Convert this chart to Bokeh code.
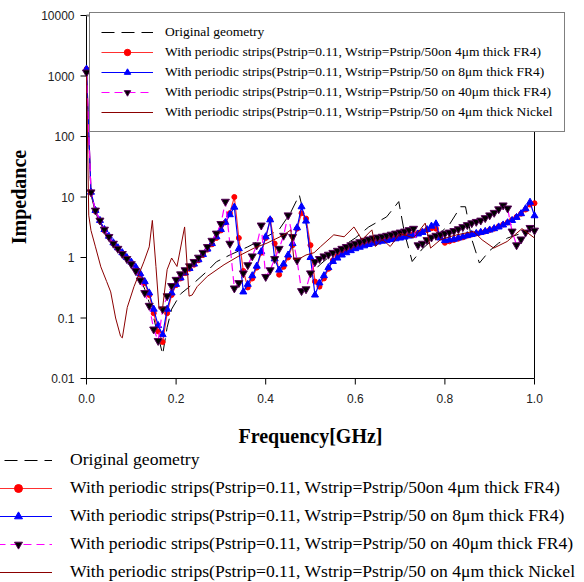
import math
from bokeh.plotting import figure
from bokeh.models import Legend, LegendItem
from bokeh.core.properties import value
from bokeh.embed import file_html
from bokeh.resources import INLINE

# ---------------- data ----------------
freq = [0.00, 0.01, 0.02, 0.03, 0.04, 0.05, 0.06, 0.07, 0.08, 0.09,
        0.10, 0.11, 0.12, 0.13, 0.14, 0.15, 0.16, 0.17, 0.18, 0.19,
        0.20, 0.21, 0.22, 0.23, 0.24, 0.25, 0.26, 0.27, 0.28, 0.29,
        0.30, 0.31, 0.32, 0.33, 0.34, 0.35, 0.36, 0.37, 0.38, 0.39,
        0.40, 0.41, 0.42, 0.43, 0.44, 0.45, 0.46, 0.47, 0.48, 0.49,
        0.50, 0.51, 0.52, 0.53, 0.54, 0.55, 0.56, 0.57, 0.58, 0.59,
        0.60, 0.61, 0.62, 0.63, 0.64, 0.65, 0.66, 0.67, 0.68, 0.69,
        0.70, 0.71, 0.72, 0.73, 0.74, 0.75, 0.76, 0.77, 0.78, 0.79,
        0.80, 0.81, 0.82, 0.83, 0.84, 0.85, 0.86, 0.87, 0.88, 0.89,
        0.90, 0.91, 0.92, 0.93, 0.94, 0.95, 0.96, 0.97, 0.98, 0.99, 1.00]

fr4_4um = [1300, 12, 5.8, 4.0, 2.8, 2.2, 1.7, 1.4, 1.15, 0.98,
           0.82, 0.67, 0.52, 0.38, 0.24, 0.12, 0.06, 0.04, 0.12, 0.24,
           0.35, 0.45, 0.55, 0.65, 0.76, 0.9, 1.1, 1.35, 1.65, 2.1,
           2.8, 3.8, 5.4, 10, 2.1, 0.6, 0.32, 0.45, 0.68, 1.2,
           2.1, 4.2, 1.7, 0.52, 0.7, 1.0, 1.6, 3.0, 5.4, 4.4,
           1.6, 0.4, 0.33, 0.45, 0.65, 0.9, 1.05, 1.2, 1.3, 1.4,
           1.5, 1.58, 1.66, 1.74, 1.8, 1.86, 1.92, 2.0, 2.06, 2.12,
           2.2, 2.28, 2.36, 2.45, 2.55, 2.7, 2.85, 3.05, 3.0, 2.2,
           1.75, 1.85, 1.95, 2.05, 2.15, 2.3, 2.4, 2.5, 2.6, 2.7,
           2.85, 3.0, 3.25, 3.5, 3.8, 4.2, 4.7, 5.3, 6.2, 7.5, 7.9]

fr4_8um = [1300, 12, 6.0, 4.1, 2.9, 2.25, 1.75, 1.45, 1.2, 1.0,
           0.84, 0.69, 0.54, 0.4, 0.26, 0.14, 0.075, 0.053, 0.14, 0.26,
           0.36, 0.46, 0.56, 0.66, 0.78, 0.92, 1.12, 1.38, 1.7, 2.2,
           2.9, 3.8, 5.1, 6.8, 1.4, 0.27, 0.36, 0.5, 0.72, 1.25,
           2.2, 4.2, 0.95, 0.62, 0.78, 1.1, 1.7, 3.1, 6.9, 4.0,
           1.0, 0.24, 0.38, 0.5, 0.68, 0.86, 0.98, 1.1, 1.2, 1.3,
           1.4, 1.48, 1.56, 1.64, 1.72, 1.8, 1.86, 1.92, 1.98, 2.04,
           2.1, 2.18, 2.26, 2.35, 2.45, 2.6, 2.9, 3.3, 3.6, 2.1,
           1.9, 1.95, 2.0, 2.1, 2.2, 2.3, 2.4, 2.5, 2.6, 2.7,
           2.85, 3.0, 3.2, 3.45, 3.75, 4.1, 4.6, 5.3, 6.4, 8.2, 4.9]

fr4_40um = [1150, 12, 6.0, 4.1, 2.9, 2.2, 1.7, 1.4, 1.15, 0.95,
            0.78, 0.6, 0.42, 0.26, 0.16, 0.065, 0.042, 0.14, 0.23, 0.34,
            0.43, 0.53, 0.62, 0.72, 0.85, 1.0, 1.2, 1.5, 1.9, 2.5,
            3.6, 8.4, 1.7, 0.31, 0.38, 0.55, 0.75, 1.05, 1.6, 3.4,
            0.48, 0.62, 0.95, 1.4, 2.3, 5.0, 2.2, 0.9, 0.28, 0.3,
            0.55, 0.85, 0.95, 1.05, 1.12, 1.2, 1.3, 1.4, 1.5, 1.6,
            1.7, 1.8, 1.9, 2.0, 2.08, 2.15, 2.22, 2.3, 2.4, 2.5,
            2.6, 2.7, 2.85, 3.0, 1.6, 1.7, 1.95, 2.15, 2.3, 2.4,
            2.5, 2.6, 2.75, 2.95, 3.2, 3.45, 3.7, 3.9, 4.1, 4.5,
            5.0, 5.5, 6.3, 7.3, 6.5, 2.7, 1.6, 2.0, 2.6, 3.1, 2.8]

orig_freq = [0.00, 0.01, 0.02, 0.03, 0.04, 0.05, 0.06, 0.07, 0.08, 0.09,
             0.10, 0.11, 0.12, 0.13, 0.14, 0.15, 0.16, 0.17, 0.18, 0.19,
             0.21, 0.24, 0.27, 0.29, 0.32, 0.36, 0.39, 0.43, 0.455, 0.475,
             0.49, 0.50, 0.51, 0.52, 0.54, 0.56, 0.60, 0.63, 0.67, 0.697,
             0.71, 0.727, 0.75, 0.78, 0.81, 0.835, 0.846, 0.86, 0.877, 0.90,
             0.92, 0.94, 0.97, 1.00]
orig_imp = [1000, 11, 5.5, 3.8, 2.7, 2.1, 1.65, 1.35, 1.1, 0.92,
            0.76, 0.6, 0.45, 0.3, 0.18, 0.1, 0.05, 0.025, 0.07, 0.14,
            0.25, 0.38, 0.6, 0.85, 1.1, 1.5, 1.96, 2.9, 5.4, 10.8,
            3.7, 1.2, 0.62, 0.75, 1.0, 1.34, 2.1, 3.2, 4.7, 8.4,
            2.5, 0.86, 1.4, 2.2, 3.5, 6.9, 6.9, 2.0, 0.81, 1.3,
            1.73, 2.1, 2.5, 2.9]

nickel_freq = [0.00, 0.005, 0.01, 0.02, 0.032, 0.045, 0.054, 0.065, 0.076, 0.08,
               0.091, 0.106, 0.128, 0.14, 0.147, 0.155, 0.162, 0.17, 0.18, 0.19,
               0.202, 0.219, 0.229, 0.236, 0.247, 0.27, 0.307, 0.344, 0.374, 0.403,
               0.441, 0.456, 0.463, 0.478, 0.49, 0.508, 0.522, 0.552, 0.575, 0.597,
               0.615, 0.637, 0.645, 0.66, 0.678, 0.70, 0.73, 0.756, 0.768, 0.79,
               0.81, 0.827, 0.864, 0.883, 0.909, 0.939, 0.972, 1.00]
nickel_imp = [1000, 5.0, 2.8, 1.5, 0.7, 0.4, 0.27, 0.1, 0.05, 0.047,
              0.15, 0.33, 0.85, 1.5, 4.1, 0.71, 0.14, 0.15, 0.63, 0.98,
              0.71, 3.2, 0.23, 0.24, 0.33, 0.49, 0.76, 1.1, 1.43, 1.73,
              2.37, 2.86, 0.92, 0.98, 1.1, 1.2, 1.5, 2.37, 2.2, 3.2,
              1.96, 2.86, 1.52, 2.0, 1.52, 2.5, 2.1, 3.7, 1.43, 1.96,
              2.2, 2.37, 2.7, 1.96, 1.43, 1.84, 3.0, 2.1]

series_labels = [
    "Original geometry",
    "With periodic strips(Pstrip=0.11, Wstrip=Pstrip/50on 4\u03bcm thick FR4)",
    "With periodic strips(Pstrip=0.11, Wstrip=Pstrip/50 on 8\u03bcm thick FR4)",
    "With periodic strips(Pstrip=0.11, Wstrip=Pstrip/50 on 40\u03bcm thick FR4)",
    "With periodic strips(Pstrip=0.11, Wstrip=Pstrip/50 on 4\u03bcm thick Nickel",
]

x_ticks = [0.0, 0.2, 0.4, 0.6, 0.8, 1.0]
x_tick_labels = ["0.0", "0.2", "0.4", "0.6", "0.8", "1.0"]
y_ticks = [0.01, 0.1, 1, 10, 100, 1000, 10000]
y_tick_labels = ["0.01", "0.1", "1", "10", "100", "1000", "10000"]
x_title = "Frequency[GHz]"
y_title = "Impedance"

# ---------------- layout (pixels) ----------------
W, H = 584, 582
PLOT_L, PLOT_R, PLOT_T, PLOT_B = 86, 534, 15, 378
px_per_x = (PLOT_R - PLOT_L) / (x_ticks[-1] - x_ticks[0])
px_per_dec = (PLOT_B - PLOT_T) / (math.log10(y_ticks[-1]) - math.log10(y_ticks[0]))
x_lo = x_ticks[0] - PLOT_L / px_per_x
x_hi = x_ticks[-1] + (W - PLOT_R) / px_per_x
y_lo = 10 ** (math.log10(y_ticks[0]) - (H - PLOT_B) / px_per_dec)
y_hi = 10 ** (math.log10(y_ticks[-1]) + PLOT_T / px_per_dec)

# The frame fills the canvas, so both legends can sit anywhere on it; the
# axes are drawn from the tick arrays.
p = figure(width=W, height=H, x_range=(x_lo, x_hi), y_range=(y_lo, y_hi),
           y_axis_type="log", output_backend="svg", toolbar_location=None,
           x_axis_location=None, y_axis_location=None,
           min_border_left=0, min_border_right=0, min_border_top=0,
           min_border_bottom=0)
p.background_fill_color = "white"
p.border_fill_color = "white"
p.outline_line_color = None
p.xgrid.visible = False
p.ygrid.visible = False

# frame / axes
n_x, n_y = len(x_ticks), len(y_ticks)
p.segment(x0=[x_ticks[0], x_ticks[0], x_ticks[-1]],
          y0=[y_ticks[0], y_ticks[0], y_ticks[0]],
          x1=[x_ticks[-1], x_ticks[0], x_ticks[-1]],
          y1=[y_ticks[0], y_ticks[-1], y_ticks[-1]],
          line_color="black", line_width=1)
p.segment(x0=[x_ticks[0]], y0=[y_ticks[-1]], x1=[x_ticks[-1]], y1=[y_ticks[-1]],
          line_color="#808080", line_width=2)
p.ray(x=x_ticks, y=[y_ticks[0]] * n_x, length=6, length_units="screen",
      angle=-math.pi / 2, line_color="black", line_width=1)
p.ray(x=[x_ticks[0]] * n_y, y=y_ticks, length=6, length_units="screen",
      angle=math.pi, line_color="black", line_width=1)

p.text(x=x_ticks, y=[y_ticks[0]] * n_x, text=x_tick_labels, y_offset=20,
       text_align="center", text_baseline="middle",
       text_font=value("Liberation Sans"), text_font_size="12px",
       text_color="#222222")
p.text(x=[x_ticks[0]] * n_y, y=y_ticks, text=y_tick_labels, x_offset=-12,
       text_align="right", text_baseline="middle",
       text_font=value("Liberation Sans"), text_font_size="12px",
       text_color="#222222")
p.text(x=[(x_ticks[0] + x_ticks[-1]) / 2], y=[y_ticks[0]], text=[x_title],
       y_offset=57, text_align="center", text_baseline="middle",
       text_font=value("Liberation Serif"), text_font_style="bold",
       text_font_size="20px", text_color="black")
p.text(x=[x_ticks[0]], y=[y_ticks[n_y // 2]], text=[y_title], x_offset=-68,
       angle=math.pi / 2, text_align="center", text_baseline="middle",
       text_font=value("Liberation Serif"), text_font_style="bold",
       text_font_size="20px", text_color="black")

# series
r_orig = p.line(orig_freq, orig_imp, line_color="black", line_width=1,
                line_dash="13 7")
r_red_l = p.line(freq, fr4_4um, line_color="#ff3030", line_width=1.2)
r_red_m = p.scatter(freq, fr4_4um, marker="circle", size=5,
                    fill_color="red", line_color="red")
r_blue_l = p.line(freq, fr4_8um, line_color="#0000ff", line_width=1.2)
r_blue_m = p.scatter(freq, fr4_8um, marker="triangle", size=7,
                     fill_color="blue", line_color="blue")
r_mag_l = p.line(freq, fr4_40um, line_color="#ff00ff", line_width=1.2,
                 line_dash="8 5")
r_mag_m = p.scatter(freq, fr4_40um, marker="inverted_triangle", size=8,
                    fill_color="black", line_color="#550055")
r_nick = p.line(nickel_freq, nickel_imp, line_color="#8b0000", line_width=1)

sets = [[r_orig], [r_red_l, r_red_m], [r_blue_l, r_blue_m],
        [r_mag_l, r_mag_m], [r_nick]]

inner = Legend(items=[LegendItem(label=l, renderers=r)
                      for l, r in zip(series_labels, sets)],
               location=(89, 450), margin=0, padding=11, spacing=4,
               glyph_width=52, glyph_height=16, label_height=16,
               label_standoff=12, label_text_font="Liberation Serif",
               label_text_font_size="13.5px", label_text_color="black",
               border_line_color="black", border_line_width=1,
               background_fill_color="white", background_fill_alpha=1.0)
p.add_layout(inner, "center")

outer = Legend(items=[LegendItem(label=l, renderers=r)
                      for l, r in zip(series_labels, sets)],
               location=(-16, 0), margin=0, padding=0, spacing=7,
               glyph_width=68, glyph_height=20, label_height=20,
               label_standoff=18, label_text_font="Liberation Serif",
               label_text_font_size="17.6px", label_text_color="black",
               border_line_color=None, background_fill_color=None,
               background_fill_alpha=0)
p.add_layout(outer, "center")

open("out.html", "w").write(file_html(p, INLINE))
